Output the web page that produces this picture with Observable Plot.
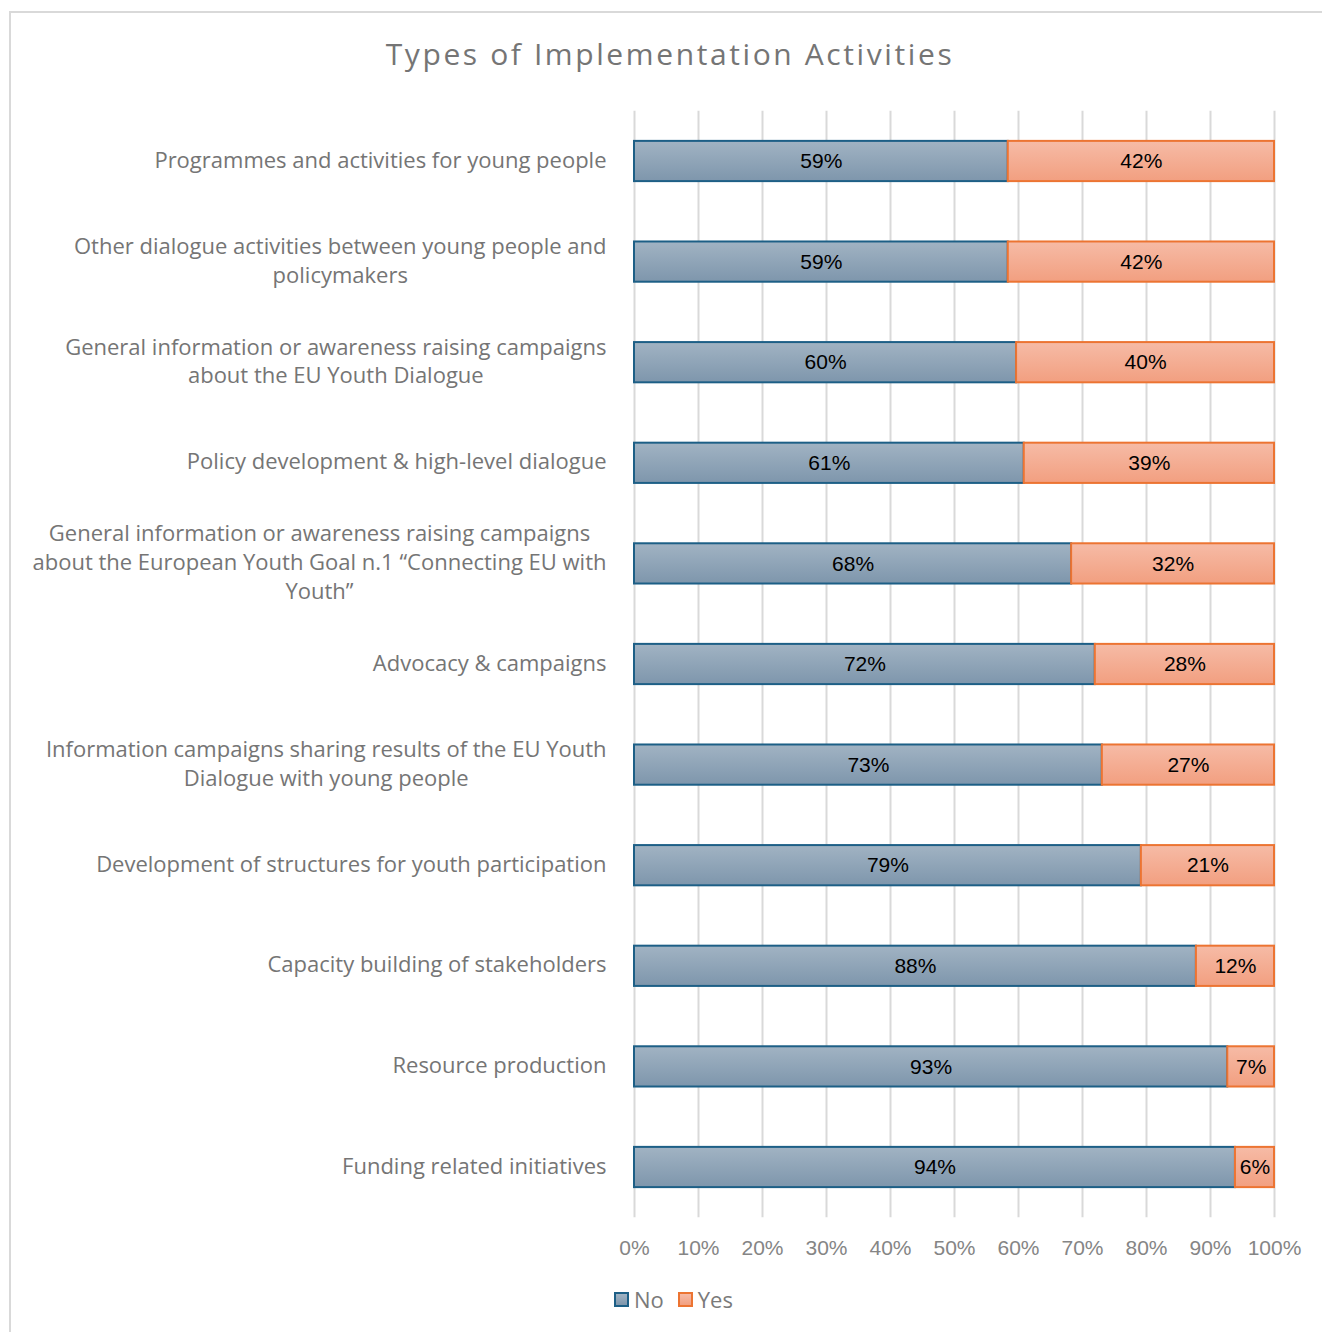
<!DOCTYPE html>
<html>
<head>
<meta charset="utf-8">
<script src="https://cdn.jsdelivr.net/npm/d3@7"></script>
<script src="https://cdn.jsdelivr.net/npm/@observablehq/plot@0.6"></script>
<style>
  html, body { margin: 0; padding: 0; background: #fff; overflow: hidden; }
  #frame { position: absolute; left: 9px; top: 11px; width: 1330px; height: 1340px; border: 2px solid #d9d9d9; box-sizing: border-box; }
  #title { position: absolute; left: 0; top: 34px; width: 1340px; text-align: center; font-family: "Open Sans", sans-serif; font-size: 30px; letter-spacing: 2.6px; color: #757575; line-height: 40px; }
  #chart { position: absolute; left: 0; top: 0; }
  #legend { position: absolute; top: 1284px; left: 614px; display: flex; align-items: center; font-family: "Open Sans", sans-serif; font-size: 22px; color: #7a7a7a; }
  .sw { width: 11px; height: 11px; border: 2px solid; margin-right: 5px; }
  .item { display: flex; align-items: center; margin-right: 14px; }
</style>
</head>
<body>
<div id="frame"></div>
<div id="title">Types of Implementation Activities</div>
<div id="chart"></div>
<div id="legend"></div>
<script>
const categories = [
  "Programmes and activities for young people",
  "Other dialogue activities between young people and\npolicymakers",
  "General information or awareness raising campaigns\nabout the EU Youth Dialogue",
  "Policy development & high-level dialogue",
  "General information or awareness raising campaigns\nabout the European Youth Goal n.1 \u201cConnecting EU with\nYouth\u201d",
  "Advocacy & campaigns",
  "Information campaigns sharing results of the EU Youth\nDialogue with young people",
  "Development of structures for youth participation",
  "Capacity building of stakeholders",
  "Resource production",
  "Funding related initiatives"
];
const noValues  = [58.4, 58.4, 59.7, 60.9, 68.3, 72.0, 73.1, 79.2, 87.8, 92.7, 93.9];
const yesValues = [41.6, 41.6, 40.3, 39.1, 31.7, 28.0, 26.9, 20.8, 12.2, 7.3, 6.1];
const noLabels  = ["59%", "59%", "60%", "61%", "68%", "72%", "73%", "79%", "88%", "93%", "94%"];
const yesLabels = ["42%", "42%", "40%", "39%", "32%", "28%", "27%", "21%", "12%", "7%", "6%"];
const xTicks = [0, 10, 20, 30, 40, 50, 60, 70, 80, 90, 100];
const seriesNames = ["No", "Yes"];
const seriesFill = ["url(#gNo)", "url(#gYes)"];
const seriesStroke = ["#1d5f86", "#ec7432"];

const noRows = categories.map((c, i) => ({cat: c, x1: 0, x2: noValues[i], label: noLabels[i]}));
const yesRows = categories.map((c, i) => ({cat: c, x1: noValues[i], x2: noValues[i] + yesValues[i], label: yesLabels[i]}));

const labelFont = "Open Sans, sans-serif";
const numFont = "Liberation Sans, Arial, sans-serif";

const plot = Plot.plot({
  width: 1322,
  height: 1332,
  marginLeft: 634,
  marginRight: 48,
  marginTop: 110.7,
  marginBottom: 114.7,
  style: {background: "transparent", fontFamily: labelFont, overflow: "visible"},
  x: {domain: [0, 100]},
  y: {domain: categories, paddingInner: 0.6, paddingOuter: 0.3, round: false, axis: null},
  marks: [
    Plot.gridX(xTicks, {stroke: "#d9d9d9", strokeOpacity: 1, strokeWidth: 2}),
    Plot.axisX(xTicks, {tickSize: 0, tickPadding: 22, tickFormat: d => d + "%", fontSize: 21, fontFamily: numFont, fill: "#858585", label: null}),
    Plot.barX(noRows, {y: "cat", x1: "x1", x2: "x2", fill: seriesFill[0], stroke: seriesStroke[0], strokeWidth: 2}),
    Plot.barX(yesRows, {y: "cat", x1: "x1", x2: "x2", fill: seriesFill[1], stroke: seriesStroke[1], strokeWidth: 2}),
    Plot.text(noRows, {y: "cat", x: d => (d.x1 + d.x2) / 2, text: "label", fontSize: 21, fontFamily: numFont, fill: "#000"}),
    Plot.text(yesRows, {y: "cat", x: d => (d.x1 + d.x2) / 2, text: "label", fontSize: 21, fontFamily: numFont, fill: "#000"}),
    Plot.text(categories, {y: d => d, x: 0, text: d => d, textAnchor: "end", dx: -28, dy: -3, fontSize: 22, lineHeight: 1.3, fill: "#757575", fontFamily: labelFont})
  ]
});

document.getElementById("chart").appendChild(plot);

// gradients
const defs = d3.select(plot).insert("defs", ":first-child");
const g1 = defs.append("linearGradient").attr("id", "gNo").attr("x1", 0).attr("y1", 0).attr("x2", 0).attr("y2", 1);
g1.append("stop").attr("offset", "0%").attr("stop-color", "#a1b3c3");
g1.append("stop").attr("offset", "100%").attr("stop-color", "#7e96ac");
const g2 = defs.append("linearGradient").attr("id", "gYes").attr("x1", 0).attr("y1", 0).attr("x2", 0).attr("y2", 1);
g2.append("stop").attr("offset", "0%").attr("stop-color", "#f6bba6");
g2.append("stop").attr("offset", "100%").attr("stop-color", "#f29f80");

// center multi-line category labels within their block (block stays right-aligned)
plot.querySelectorAll("text").forEach(t => {
  const spans = t.querySelectorAll("tspan");
  if (spans.length < 2) return;
  let maxW = 0;
  spans.forEach(s => { maxW = Math.max(maxW, s.getComputedTextLength()); });
  t.setAttribute("text-anchor", "middle");
  t.style.textAnchor = "middle";
  spans.forEach(s => s.setAttribute("x", -maxW / 2));
});

// legend
const legend = document.getElementById("legend");
seriesNames.forEach((name, i) => {
  const item = document.createElement("div");
  item.className = "item";
  const sw = document.createElement("div");
  sw.className = "sw";
  sw.style.borderColor = seriesStroke[i];
  sw.style.background = i === 0 ? "linear-gradient(#a1b3c3,#7e96ac)" : "linear-gradient(#f6bba6,#f29f80)";
  const tx = document.createElement("span");
  tx.textContent = name;
  item.appendChild(sw);
  item.appendChild(tx);
  legend.appendChild(item);
});
</script>
</body>
</html>
